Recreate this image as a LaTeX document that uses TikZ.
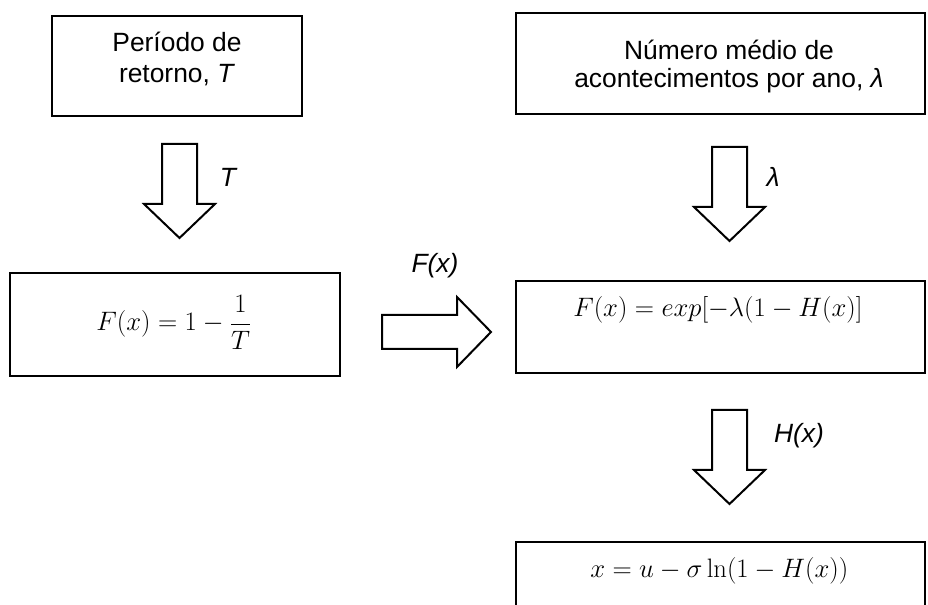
\documentclass[tikz,border=0pt]{standalone}
\usepackage{fix-cm}
\usepackage[no-math]{fontspec}
\setmainfont{Liberation Sans}
\tikzset{
  boxline/.style={draw=black,line width=1.6pt,inner sep=0pt},
  blockarrow/.style={draw=black,line width=1.5pt,line join=miter,fill=white},
  txt/.style={inner sep=0pt,anchor=base,font=\fontsize{19.8}{24}\selectfont},
  lbl/.style={inner sep=0pt,anchor=base,font=\fontsize{19.8}{24}\selectfont\itshape},
  formula/.style={inner sep=0pt,font=\fontsize{20}{24}\selectfont},
  downarrow/.pic={\draw[blockarrow] (-17.5,0) -- (17.5,0) -- (17.5,60) -- (35.5,60) -- (0,94) -- (-35.5,60) -- (-17.5,60) -- cycle;}
}
\begin{document}
\begin{tikzpicture}[x=0.75pt,y=-0.75pt]
\useasboundingbox (0,0) rectangle (928,605);
\clip (0,0) rectangle (928,605);
% boxes
\node[boxline,minimum width=187.5pt,minimum height=75pt] (b1) at (177,66) {};
\node[boxline,minimum width=306.75pt,minimum height=75.75pt] (b2) at (720.5,63.5) {};
\node[boxline,minimum width=247.5pt,minimum height=77.25pt] (b3) at (175,324.5) {};
\node[boxline,minimum width=306.75pt,minimum height=69pt] (b4) at (720.5,327) {};
\node[boxline,minimum width=306.75pt,minimum height=73.5pt] (b5) at (720.5,591) {};
% texts
\node[txt] (t1a) at (177,52) {Período de};
\node[txt] (t1b) at (177,83) {retorno, \textit{T}};
\node[txt] (t2a) at (729,60) {Número médio de};
\node[txt] (t2b) at (729,88) {acontecimentos por ano, \textit{λ}};
\node[formula,anchor=base] (f3) at (174,331) {$\displaystyle F(x)=1-\frac{1}{T}$};
\node[formula,anchor=base west] (f4) at (573,317) {$F(x)=exp[-\lambda(1-H(x)]$};
\node[formula,anchor=base west] (f5) at (590,577) {$x=u-\sigma\ln(1-H(x))$};
% block arrows
\pic at (179.5,144) {downarrow};
\pic at (729.5,147) {downarrow};
\pic at (729.5,410) {downarrow};
\draw[blockarrow] (382,315) -- (457,315) -- (457,297) -- (491,332) -- (457,367) -- (457,349) -- (382,349) -- cycle;
% labels
\node[lbl] (lT) at (228,187) {T};
\node[lbl] (lL) at (773,187) {λ};
\node[lbl] (lF) at (435,273) {F(x)};
\node[lbl] (lH) at (799,443) {H(x)};
\end{tikzpicture}
\end{document}
